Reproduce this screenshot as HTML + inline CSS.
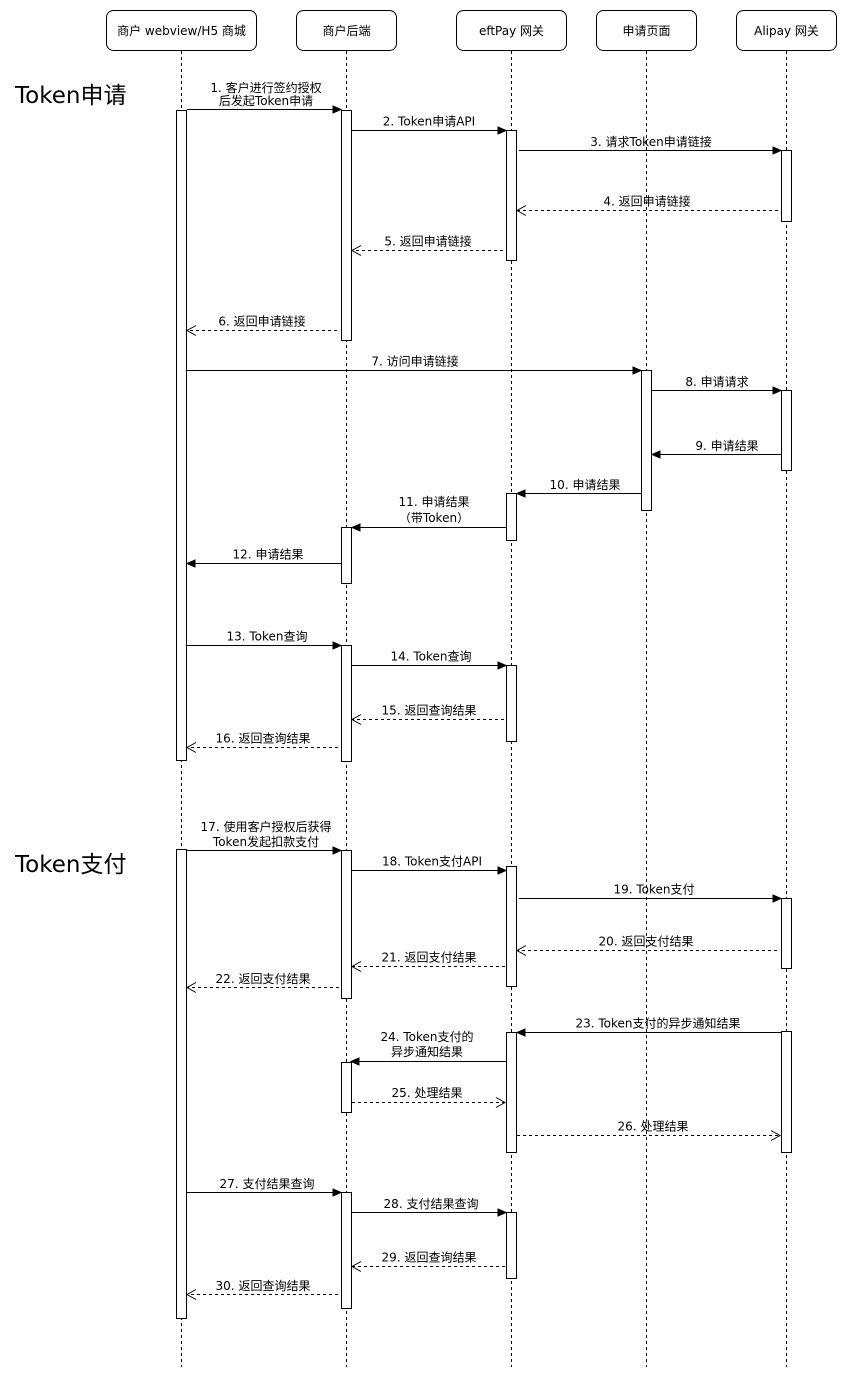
<!DOCTYPE html>
<html><head><meta charset="utf-8"><style>
html,body{margin:0;padding:0;background:#fff;}
svg{display:block;}
text{font-family:"DejaVu Sans","Noto Sans CJK SC",sans-serif;font-size:12px;fill:#000;}
.big{font-size:23px;}
.ll{stroke:#000;stroke-width:1;stroke-dasharray:3,3;fill:none;}
.bar{fill:#fff;stroke:#000;stroke-width:1;}
.s{stroke:#000;stroke-width:1;fill:none;}
.d{stroke:#000;stroke-width:1;fill:none;stroke-dasharray:3,3;}
.h{fill:#000;stroke:#000;stroke-width:1;}
.o{fill:none;stroke:#000;stroke-width:1;}
</style></head><body>
<svg width="847" height="1381" viewBox="0 0 847 1381" xmlns="http://www.w3.org/2000/svg">
<!-- header boxes -->
<rect x="106.5" y="10.5" width="150" height="40" rx="7" class="bar"/>
<rect x="296.5" y="10.5" width="100" height="40" rx="7" class="bar"/>
<rect x="456.5" y="10.5" width="110" height="40" rx="7" class="bar"/>
<rect x="596.5" y="10.5" width="100" height="40" rx="7" class="bar"/>
<rect x="736.5" y="10.5" width="100" height="40" rx="7" class="bar"/>
<text x="181.5" y="31" text-anchor="middle" dominant-baseline="central">商户 webview/H5 商城</text>
<text x="346.5" y="31" text-anchor="middle" dominant-baseline="central">商户后端</text>
<text x="511.5" y="31" text-anchor="middle" dominant-baseline="central">eftPay 网关</text>
<text x="646.5" y="31" text-anchor="middle" dominant-baseline="central">申请页面</text>
<text x="786.5" y="31" text-anchor="middle" dominant-baseline="central">Alipay 网关</text>

<!-- lifelines -->
<line x1="181.5" y1="51" x2="181.5" y2="1367" class="ll"/>
<line x1="346.5" y1="51" x2="346.5" y2="1367" class="ll"/>
<line x1="511.5" y1="51" x2="511.5" y2="1367" class="ll"/>
<line x1="646.5" y1="51" x2="646.5" y2="1367" class="ll"/>
<line x1="786.5" y1="51" x2="786.5" y2="1367" class="ll"/>

<!-- big section labels -->
<text x="15" y="96" class="big" dominant-baseline="central">Token申请</text>
<text x="15" y="865" class="big" dominant-baseline="central">Token支付</text>

<!-- activation bars -->
<rect x="176.5" y="110.5" width="10" height="650" class="bar"/>
<rect x="176.5" y="849.5" width="10" height="469" class="bar"/>

<rect x="341.5" y="110.5" width="10" height="230" class="bar"/>
<rect x="341.5" y="527.5" width="10" height="56" class="bar"/>
<rect x="341.5" y="645.5" width="10" height="116" class="bar"/>
<rect x="341.5" y="850.5" width="10" height="148" class="bar"/>
<rect x="341.5" y="1062.5" width="10" height="50" class="bar"/>
<rect x="341.5" y="1192.5" width="10" height="116" class="bar"/>

<rect x="506.5" y="130.5" width="10" height="130" class="bar"/>
<rect x="506.5" y="493.5" width="10" height="47" class="bar"/>
<rect x="506.5" y="665.5" width="10" height="76" class="bar"/>
<rect x="506.5" y="866.5" width="10" height="120" class="bar"/>
<rect x="506.5" y="1032.5" width="10" height="120" class="bar"/>
<rect x="506.5" y="1212.5" width="10" height="66" class="bar"/>

<rect x="641.5" y="370.5" width="10" height="140" class="bar"/>

<rect x="781.5" y="150.5" width="10" height="71" class="bar"/>
<rect x="781.5" y="390.5" width="10" height="80" class="bar"/>
<rect x="781.5" y="898.5" width="10" height="70" class="bar"/>
<rect x="781.5" y="1031.5" width="10" height="121" class="bar"/>

<!-- 1 -->
<line x1="187" y1="109.5" x2="334" y2="109.5" class="s"/>
<polygon points="341,109.5 333,106 333,113" class="h"/>
<text x="266" y="88" text-anchor="middle" dominant-baseline="central">1. 客户进行签约授权</text>
<text x="266" y="101" text-anchor="middle" dominant-baseline="central">后发起Token申请</text>
<!-- 2 -->
<line x1="351" y1="130.5" x2="499" y2="130.5" class="s"/>
<polygon points="506,130.5 498,127 498,134" class="h"/>
<text x="429" y="121.5" text-anchor="middle" dominant-baseline="central">2. Token申请API</text>
<!-- 3 -->
<line x1="519" y1="150.5" x2="774" y2="150.5" class="s"/>
<polygon points="781,150.5 773,147 773,154" class="h"/>
<text x="651" y="142" text-anchor="middle" dominant-baseline="central">3. 请求Token申请链接</text>
<!-- 4 -->
<line x1="778" y1="210.5" x2="517" y2="210.5" class="d"/>
<polyline points="526,205.5 517,210.5 526,215.5" class="o"/>
<text x="647" y="201.5" text-anchor="middle" dominant-baseline="central">4. 返回申请链接</text>
<!-- 5 -->
<line x1="503" y1="250.5" x2="352" y2="250.5" class="d"/>
<polyline points="361,245.5 352,250.5 361,255.5" class="o"/>
<text x="428" y="241.5" text-anchor="middle" dominant-baseline="central">5. 返回申请链接</text>
<!-- 6 -->
<line x1="337" y1="330.5" x2="187" y2="330.5" class="d"/>
<polyline points="196,325.5 187,330.5 196,335.5" class="o"/>
<text x="262" y="321.5" text-anchor="middle" dominant-baseline="central">6. 返回申请链接</text>
<!-- 7 -->
<line x1="187" y1="370.5" x2="634" y2="370.5" class="s"/>
<polygon points="641,370.5 633,367 633,374" class="h"/>
<text x="415" y="361.5" text-anchor="middle" dominant-baseline="central">7. 访问申请链接</text>
<!-- 8 -->
<line x1="651" y1="390.5" x2="774" y2="390.5" class="s"/>
<polygon points="781,390.5 773,387 773,394" class="h"/>
<text x="717" y="382" text-anchor="middle" dominant-baseline="central">8. 申请请求</text>
<!-- 9 -->
<line x1="781" y1="454.5" x2="659" y2="454.5" class="s"/>
<polygon points="652,454.5 660,451 660,458" class="h"/>
<text x="727" y="446" text-anchor="middle" dominant-baseline="central">9. 申请结果</text>
<!-- 10 -->
<line x1="641" y1="493.5" x2="524" y2="493.5" class="s"/>
<polygon points="517,493.5 525,490 525,497" class="h"/>
<text x="585" y="485" text-anchor="middle" dominant-baseline="central">10. 申请结果</text>
<!-- 11 -->
<line x1="506" y1="527.5" x2="359" y2="527.5" class="s"/>
<polygon points="352,527.5 360,524 360,531" class="h"/>
<text x="434" y="502" text-anchor="middle" dominant-baseline="central">11. 申请结果</text>
<text x="434" y="518" text-anchor="middle" dominant-baseline="central">（带Token）</text>
<!-- 12 -->
<line x1="341" y1="563.5" x2="194" y2="563.5" class="s"/>
<polygon points="187,563.5 195,560 195,567" class="h"/>
<text x="268" y="554.5" text-anchor="middle" dominant-baseline="central">12. 申请结果</text>
<!-- 13 -->
<line x1="187" y1="645.5" x2="334" y2="645.5" class="s"/>
<polygon points="341,645.5 333,642 333,649" class="h"/>
<text x="267" y="636.5" text-anchor="middle" dominant-baseline="central">13. Token查询</text>
<!-- 14 -->
<line x1="351" y1="665.5" x2="499" y2="665.5" class="s"/>
<polygon points="506,665.5 498,662 498,669" class="h"/>
<text x="431" y="656.5" text-anchor="middle" dominant-baseline="central">14. Token查询</text>
<!-- 15 -->
<line x1="504" y1="719.5" x2="352" y2="719.5" class="d"/>
<polyline points="361,714.5 352,719.5 361,724.5" class="o"/>
<text x="429" y="710.5" text-anchor="middle" dominant-baseline="central">15. 返回查询结果</text>
<!-- 16 -->
<line x1="338" y1="747.5" x2="187" y2="747.5" class="d"/>
<polyline points="196,742.5 187,747.5 196,752.5" class="o"/>
<text x="263" y="738.5" text-anchor="middle" dominant-baseline="central">16. 返回查询结果</text>
<!-- 17 -->
<line x1="187" y1="850.5" x2="334" y2="850.5" class="s"/>
<polygon points="341,850.5 333,847 333,854" class="h"/>
<text x="266" y="827" text-anchor="middle" dominant-baseline="central">17. 使用客户授权后获得</text>
<text x="266" y="842" text-anchor="middle" dominant-baseline="central">Token发起扣款支付</text>
<!-- 18 -->
<line x1="351" y1="870.5" x2="499" y2="870.5" class="s"/>
<polygon points="506,870.5 498,867 498,874" class="h"/>
<text x="432" y="861.5" text-anchor="middle" dominant-baseline="central">18. Token支付API</text>
<!-- 19 -->
<line x1="519" y1="898.5" x2="774" y2="898.5" class="s"/>
<polygon points="781,898.5 773,895 773,902" class="h"/>
<text x="654" y="889.5" text-anchor="middle" dominant-baseline="central">19. Token支付</text>
<!-- 20 -->
<line x1="777" y1="950.5" x2="517" y2="950.5" class="d"/>
<polyline points="526,945.5 517,950.5 526,955.5" class="o"/>
<text x="646" y="941.5" text-anchor="middle" dominant-baseline="central">20. 返回支付结果</text>
<!-- 21 -->
<line x1="505" y1="966.5" x2="352" y2="966.5" class="d"/>
<polyline points="361,961.5 352,966.5 361,971.5" class="o"/>
<text x="429" y="957.5" text-anchor="middle" dominant-baseline="central">21. 返回支付结果</text>
<!-- 22 -->
<line x1="339" y1="987.5" x2="187" y2="987.5" class="d"/>
<polyline points="196,982.5 187,987.5 196,992.5" class="o"/>
<text x="263" y="979" text-anchor="middle" dominant-baseline="central">22. 返回支付结果</text>
<!-- 23 -->
<line x1="781" y1="1032.5" x2="524" y2="1032.5" class="s"/>
<polygon points="517,1032.5 525,1029 525,1036" class="h"/>
<text x="658" y="1023.5" text-anchor="middle" dominant-baseline="central">23. Token支付的异步通知结果</text>
<!-- 24 -->
<line x1="506" y1="1061.5" x2="358" y2="1061.5" class="s"/>
<polygon points="351,1061.5 359,1058 359,1065" class="h"/>
<text x="427" y="1037" text-anchor="middle" dominant-baseline="central">24. Token支付的</text>
<text x="427" y="1052" text-anchor="middle" dominant-baseline="central">异步通知结果</text>
<!-- 25 -->
<line x1="352" y1="1102.5" x2="505" y2="1102.5" class="d"/>
<polyline points="496,1097.5 505,1102.5 496,1107.5" class="o"/>
<text x="427" y="1093" text-anchor="middle" dominant-baseline="central">25. 处理结果</text>
<!-- 26 -->
<line x1="517" y1="1135.5" x2="780" y2="1135.5" class="d"/>
<polyline points="771,1130.5 780,1135.5 771,1140.5" class="o"/>
<text x="653" y="1126.5" text-anchor="middle" dominant-baseline="central">26. 处理结果</text>
<!-- 27 -->
<line x1="187" y1="1192.5" x2="334" y2="1192.5" class="s"/>
<polygon points="341,1192.5 333,1189 333,1196" class="h"/>
<text x="267" y="1184" text-anchor="middle" dominant-baseline="central">27. 支付结果查询</text>
<!-- 28 -->
<line x1="351" y1="1212.5" x2="499" y2="1212.5" class="s"/>
<polygon points="506,1212.5 498,1209 498,1216" class="h"/>
<text x="431" y="1204" text-anchor="middle" dominant-baseline="central">28. 支付结果查询</text>
<!-- 29 -->
<line x1="505" y1="1266.5" x2="352" y2="1266.5" class="d"/>
<polyline points="361,1261.5 352,1266.5 361,1271.5" class="o"/>
<text x="429" y="1257.5" text-anchor="middle" dominant-baseline="central">29. 返回查询结果</text>
<!-- 30 -->
<line x1="338" y1="1294.5" x2="187" y2="1294.5" class="d"/>
<polyline points="196,1289.5 187,1294.5 196,1299.5" class="o"/>
<text x="263" y="1286" text-anchor="middle" dominant-baseline="central">30. 返回查询结果</text>
</svg>
</body></html>
